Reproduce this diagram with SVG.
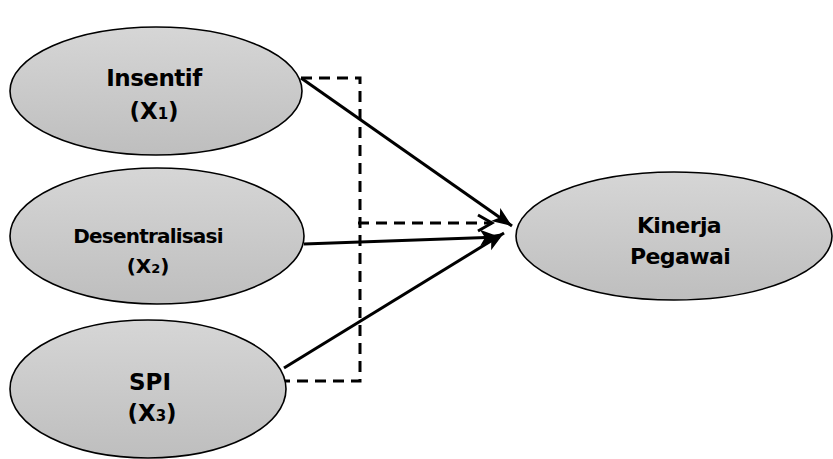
<svg xmlns="http://www.w3.org/2000/svg" width="833" height="459" viewBox="0 0 833 459">
  <defs>
    <linearGradient id="fillGrad" x1="0" y1="0" x2="0" y2="1">
      <stop offset="0" stop-color="#d6d6d6"/>
      <stop offset="1" stop-color="#bebebe"/>
    </linearGradient>
    <marker id="arrowFilled" markerUnits="userSpaceOnUse" markerWidth="22" markerHeight="18" refX="20" refY="9" orient="auto">
      <path d="M0,1 L20,9 L0,17 L5,9 Z" fill="#000"/>
    </marker>
    <marker id="arrowOpen" markerUnits="userSpaceOnUse" markerWidth="20" markerHeight="20" refX="17" refY="10" orient="auto">
      <path d="M3,2 L17,10 L3,18" fill="none" stroke="#000" stroke-width="3"/>
    </marker>
  </defs>
  <style>
    .node ellipse { fill: url(#fillGrad); stroke: #000; stroke-width: 1.6; }
    .node text { font-family: "DejaVu Sans", Verdana, sans-serif; font-weight: bold; fill: #000; text-anchor: middle; }
    .solid { fill: none; stroke: #000; stroke-width: 3; }
    .dashed { fill: none; stroke: #000; stroke-width: 3; stroke-dasharray: 11 7; }
  </style>

  <g id="node-insentif" class="node">
    <ellipse cx="156" cy="91" rx="146" ry="64"/>
    <text x="154" y="86" font-size="23" letter-spacing="-0.5">Insentif</text>
    <text x="154" y="119" font-size="23">(X<tspan font-size="15">1</tspan>)</text>
  </g>

  <g id="node-desentralisasi" class="node">
    <ellipse cx="157" cy="236" rx="147" ry="68"/>
    <text x="148" y="243" font-size="20" letter-spacing="-0.8">Desentralisasi</text>
    <text x="148" y="273" font-size="20">(X<tspan font-size="13">2</tspan>)</text>
  </g>

  <g id="node-spi" class="node">
    <ellipse cx="148" cy="389" rx="138" ry="69"/>
    <text x="150" y="390" font-size="23">SPI</text>
    <text x="152" y="421" font-size="23">(X<tspan font-size="15">3</tspan>)</text>
  </g>

  <g id="node-kinerja" class="node">
    <ellipse cx="674" cy="236" rx="158" ry="64"/>
    <text x="679" y="233" font-size="22" letter-spacing="-0.6">Kinerja</text>
    <text x="680" y="264" font-size="22" letter-spacing="-0.6">Pegawai</text>
  </g>

  <g id="connectors">
    <path class="dashed" d="M301,78 H360 V381 H285"/>
    <path class="dashed" d="M358,223 H492" marker-end="url(#arrowOpen)"/>
    <line class="solid" x1="301" y1="78" x2="512" y2="226" marker-end="url(#arrowFilled)"/>
    <line class="solid" x1="304" y1="244" x2="500" y2="237" marker-end="url(#arrowFilled)"/>
    <line class="solid" x1="284" y1="368" x2="504" y2="233" marker-end="url(#arrowFilled)"/>
  </g>
</svg>
